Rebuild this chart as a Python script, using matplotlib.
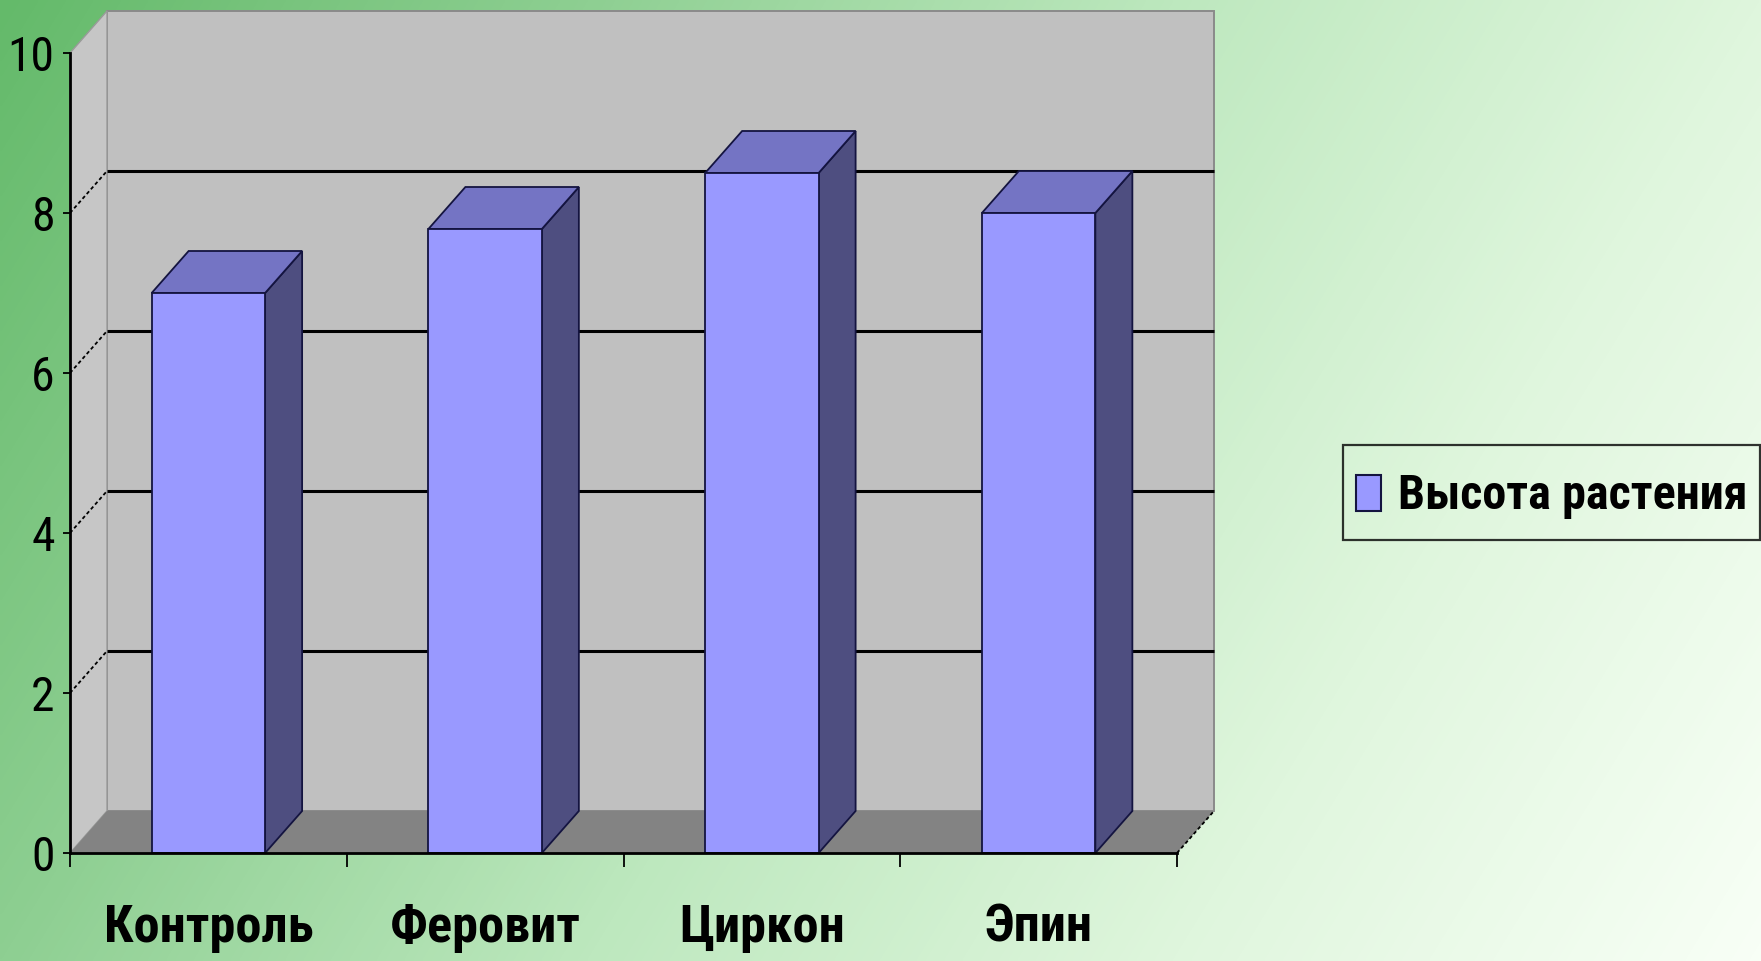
import numpy as np
import matplotlib
matplotlib.use('Agg')
import matplotlib.pyplot as plt
from matplotlib.patches import Polygon, Patch, Rectangle
from matplotlib.legend_handler import HandlerPatch
from matplotlib.colors import LinearSegmentedColormap
from matplotlib import font_manager as fm

# ---------------- data ----------------
categories = ['Контроль', 'Феровит', 'Циркон', 'Эпин']
values = [7.0, 7.8, 8.5, 8.0]
series_name = 'Высота растения'
y_ticks = [0, 2, 4, 6, 8, 10]

# ---------------- font choice (prefer a narrow sans) ----------------
entries = fm.fontManager.ttflist
FAMILY = ['Liberation Sans', 'DejaVu Sans']
STRETCH = 'normal'
narrow = None
for pref in ['Liberation Sans Narrow', 'Arial Narrow', 'Roboto Condensed',
             'Noto Sans Condensed', 'Noto Sans SemiCondensed', 'Open Sans Condensed']:
    if any(f.name == pref for f in entries):
        narrow = (pref, 'normal')
        break
if narrow is None:
    for base in ['Noto Sans', 'Roboto', 'Open Sans', 'Liberation Sans']:
        if any(f.name == base and f.stretch == 'condensed' for f in entries):
            narrow = (base, 'condensed')
            break
if narrow is not None:
    FAMILY = [narrow[0], 'DejaVu Sans']
    STRETCH = narrow[1]
plt.rcParams['font.family'] = FAMILY
plt.rcParams['font.stretch'] = STRETCH

W, H = 1761, 961
fig = plt.figure(figsize=(W / 100, H / 100), dpi=100)

# background gradient (green -> near white)
bg = fig.add_axes([0, 0, 1, 1], zorder=-10)
xn = np.linspace(0, 1, 500)[None, :]
yn = np.linspace(0, 1, 300)[:, None]
t = 0.75 * xn + 0.25 * yn
stops = [(0.0, '#64ba6a'), (0.25, '#8ecf92'), (0.5, '#bde8be'),
         (0.75, '#dff6dd'), (1.0, '#f8fff6')]
cmap = LinearSegmentedColormap.from_list('bg', stops)
bg.imshow(t, cmap=cmap, vmin=0, vmax=1, aspect='auto',
          extent=[0, 1, 0, 1], origin='upper', interpolation='bilinear')
bg.set_axis_off()

# main axes (front plane of the 3D box)
ax = fig.add_axes([70 / W, 1 - 853 / H, (1177 - 70) / W, (853 - 53) / H])
n = len(categories)
ymax = y_ticks[-1]
ax.set_xlim(0, n)
ax.set_ylim(0, ymax)
ax.patch.set_visible(False)

# depth offset in data units
DX = 37 / ((1177 - 70) / n)
DY = 42 / ((853 - 53) / ymax)

# back wall
ax.add_patch(Polygon([(DX, DY), (n + DX, DY), (n + DX, ymax + DY), (DX, ymax + DY)],
                     closed=True, fc='#c0c0c0', ec='#8a8a8a', lw=1.4,
                     clip_on=False, zorder=0.5))
# left wall
ax.add_patch(Polygon([(0, 0), (DX, DY), (DX, ymax + DY), (0, ymax)],
                     closed=True, fc='#c6c6c6', ec='#9a9a9a', lw=1.0,
                     clip_on=False, zorder=0.5))
# gridlines on back wall + left wall
for v in y_ticks[1:-1]:
    ax.plot([DX, n + DX], [v + DY, v + DY], color='black', lw=2.2,
            clip_on=False, zorder=0.6, solid_capstyle='butt')
    ax.plot([0, DX], [v, v + DY], color='black', lw=1.3,
            ls=(0, (2.0, 1.5)), clip_on=False, zorder=0.6)
# floor
ax.add_patch(Polygon([(0, 0), (n, 0), (n + DX, DY), (DX, DY)],
                     closed=True, fc='#838383', ec='none',
                     clip_on=False, zorder=0.7))
ax.plot([n, n + DX], [0, DY], color='black', lw=1.3, ls=(0, (2.0, 1.5)),
        clip_on=False, zorder=0.75)

# bars
bw = 0.41
FRONT = '#9999ff'
TOP = '#7474c4'
SIDE = '#4e4e80'
EDGE = '#141440'
for i, v in enumerate(values):
    xl = i + 0.5 - bw / 2
    xr = i + 0.5 + bw / 2
    ax.add_patch(Polygon([(xr, 0), (xr + DX, DY), (xr + DX, v + DY), (xr, v)],
                         closed=True, fc=SIDE, ec=EDGE, lw=1.3,
                         clip_on=False, zorder=1.0))
    ax.add_patch(Polygon([(xl, v), (xr, v), (xr + DX, v + DY), (xl + DX, v + DY)],
                         closed=True, fc=TOP, ec=EDGE, lw=1.3,
                         clip_on=False, zorder=1.0))
    ax.add_patch(Polygon([(xl, 0), (xr, 0), (xr, v), (xl, v)],
                         closed=True, fc=FRONT, ec=EDGE, lw=1.3,
                         clip_on=False, zorder=1.1))

# axes lines / ticks
for s in ['top', 'right']:
    ax.spines[s].set_visible(False)
for s in ['left', 'bottom']:
    ax.spines[s].set_color('black')
    ax.spines[s].set_linewidth(2.0)

ax.set_yticks(y_ticks)
ax.set_yticklabels([str(v) for v in y_ticks])
ax.tick_params(axis='y', direction='out', length=5, width=1.3, pad=6,
               labelsize=38, colors='black')

ax.set_xticks(np.arange(n + 1))
ax.set_xticklabels([])
ax.tick_params(axis='x', which='major', direction='out', length=10, width=1.3)
ax.set_xticks(np.arange(n) + 0.5, minor=True)
ax.set_xticklabels(categories, minor=True)
XPAD = 31
ax.tick_params(axis='x', which='minor', length=0, pad=XPAD, labelsize=37)
for lab in ax.get_xticklabels(minor=True):
    lab.set_fontweight('bold')


# legend (small tall swatch centred in a taller handle box)
def swatch(legend, orig_handle, xdescent, ydescent, width, height, fontsize):
    h = 0.72 * fontsize
    return Rectangle((-xdescent, -ydescent + (height - h) / 2), width, h)


handle = Patch(facecolor=FRONT, edgecolor=EDGE, lw=1.5, label=series_name)
LEGSIZE = 36
leg = fig.legend(handles=[handle], loc='center left',
                 bbox_to_anchor=(1343 / W, 1 - 492.5 / H),
                 bbox_transform=fig.transFigure,
                 handler_map={Patch: HandlerPatch(patch_func=swatch)},
                 frameon=True, fancybox=False, edgecolor='black',
                 facecolor='none', prop=dict(size=LEGSIZE, weight='bold'),
                 borderpad=0.25, handlelength=0.5, handleheight=1.75,
                 handletextpad=0.35, borderaxespad=0)
leg.get_frame().set_linewidth(1.6)

# ---- fit text sizes to the reference text widths (pixels) ----
fig.canvas.draw()
r = fig.canvas.get_renderer()

ylabs = ax.get_yticklabels()
w10 = ylabs[-1].get_window_extent(r).width
ysize = 38 * 47 / w10
ax.tick_params(axis='y', labelsize=ysize)

xlabs = ax.get_xticklabels(minor=True)
wk = xlabs[0].get_window_extent(r).width
xsize = 37 * 210 / wk
ax.tick_params(axis='x', which='minor', labelsize=xsize)

lt = leg.get_texts()[0]
wl = lt.get_window_extent(r).width
lt.set_fontsize(LEGSIZE * 350 / wl)

fig.canvas.draw()
bb = ax.get_xticklabels(minor=True)[0].get_window_extent(r)
cy = (bb.y0 + bb.y1) / 2
target = H - 928
ax.tick_params(axis='x', which='minor', pad=XPAD + (cy - target) * 72 / 100)

fig.savefig('out.png', dpi=100)
